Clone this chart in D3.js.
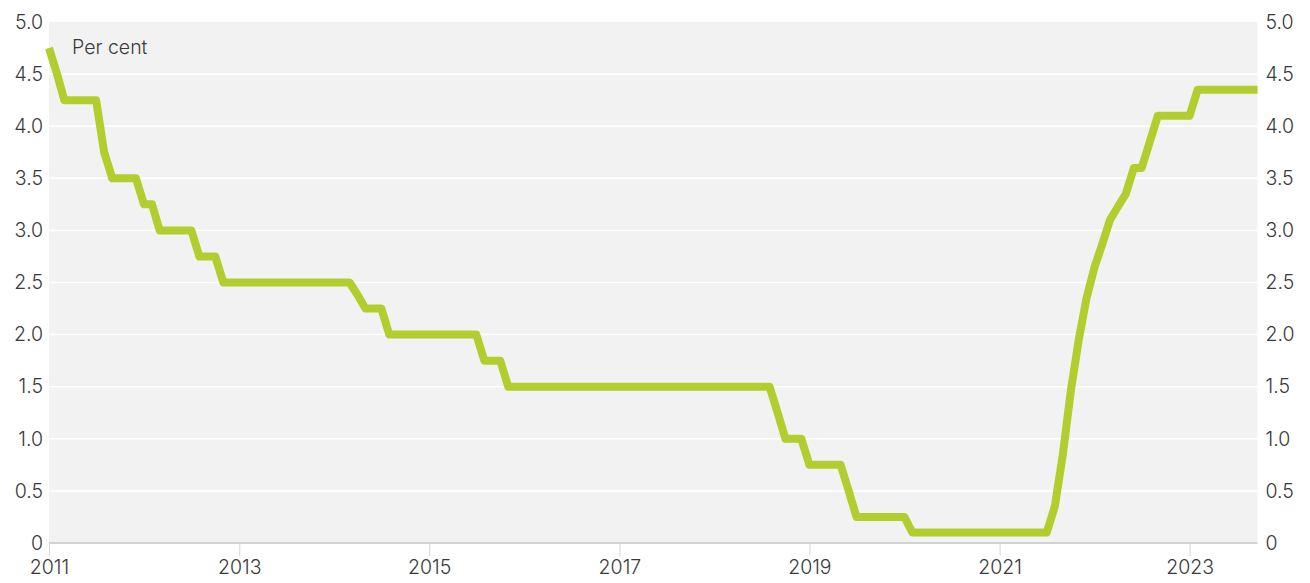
<!DOCTYPE html>
<html>
<head>
<meta charset="utf-8">
<script src="https://cdn.jsdelivr.net/npm/d3@7"></script>
<style>
  html, body { margin: 0; padding: 0; background: #ffffff; }
  svg { display: block; font-family: Inter, "Noto Sans", sans-serif; }
</style>
</head>
<body>
<svg id="chart" width="1310" height="583"></svg>
<script>
// ---- data ----
const dates = ["2011-01-01","2011-02-01","2011-03-01","2011-07-01","2011-08-01","2011-09-01","2011-12-01",
  "2012-01-01","2012-02-01","2012-03-01","2012-07-01","2012-08-01","2012-10-01","2012-11-01",
  "2014-03-01","2014-04-01","2014-05-01","2014-07-01","2014-08-01",
  "2015-07-01","2015-08-01","2015-10-01","2015-11-01",
  "2018-08-01","2018-09-01","2018-10-01","2018-12-01",
  "2019-01-01","2019-05-01","2019-06-01","2019-07-01",
  "2020-01-01","2020-02-01",
  "2021-07-01","2021-08-01","2021-09-01","2021-10-01","2021-11-01","2021-12-01",
  "2022-01-01","2022-02-01","2022-03-01","2022-04-01","2022-05-01","2022-06-01","2022-07-01","2022-08-01","2022-09-01",
  "2023-01-01","2023-02-01","2023-09-19"];
const rates = [4.75,4.5,4.25,4.25,3.75,3.5,3.5,
  3.25,3.25,3.0,3.0,2.75,2.75,2.5,
  2.5,2.38,2.25,2.25,2.0,
  2.0,1.75,1.75,1.5,
  1.5,1.25,1.0,1.0,
  0.75,0.75,0.5,0.25,
  0.25,0.1,
  0.1,0.35,0.85,1.45,1.95,2.35,
  2.65,2.88,3.1,3.23,3.35,3.6,3.6,3.85,4.1,
  4.1,4.35,4.35];
const xTickYears = [2011,2013,2015,2017,2019,2021,2023];
const yTicks = [0,0.5,1,1.5,2,2.5,3,3.5,4,4.5,5];
const yTickLabels = ["0","0.5","1.0","1.5","2.0","2.5","3.0","3.5","4.0","4.5","5.0"];
const unitLabel = "Per cent";
const xStart = "2011-01-01", xEnd = "2023-09-19";

// ---- layout ----
const svg = d3.select("#chart");
const pLeft = 49, pRight = 1257.5, pTop = 22, pBottom = 543;
const fontSize = 19.5, textColor = "#3a3a3a";
const parse = d3.timeParse("%Y-%m-%d");
const data = dates.map((d, i) => ({ date: parse(d), v: rates[i] }));

const x = d3.scaleTime().domain([parse(xStart), parse(xEnd)]).range([pLeft, pRight]);
const y = d3.scaleLinear().domain([0, 5]).range([pBottom, pTop]);

// background
svg.append("rect").attr("x", pLeft).attr("y", pTop)
  .attr("width", pRight - pLeft).attr("height", pBottom - pTop).attr("fill", "#f2f2f2");

// gridlines
svg.append("g").selectAll("line").data(yTicks.filter(t => t > 0 && t < 5)).join("line")
  .attr("x1", pLeft).attr("x2", pRight)
  .attr("y1", d => y(d)).attr("y2", d => y(d))
  .attr("stroke", "#ffffff").attr("stroke-width", 1.5);

// x axis
const xAxis = d3.axisBottom(x)
  .tickValues(xTickYears.map(yr => new Date(yr, 0, 1)))
  .tickFormat(d3.timeFormat("%Y"))
  .tickSize(13).tickPadding(4);
const gx = svg.append("g").attr("transform", `translate(0,${pBottom})`).call(xAxis);
gx.select(".domain").remove();
gx.selectAll(".tick line").attr("stroke", "#dcdcdc").attr("stroke-width", 1.2);
gx.selectAll(".tick text").attr("fill", textColor).attr("font-size", fontSize)
  .attr("font-family", "Inter, 'Noto Sans', sans-serif").attr("font-weight", 300);

// baseline
svg.append("line").attr("x1", pLeft).attr("x2", pRight)
  .attr("y1", pBottom).attr("y2", pBottom)
  .attr("stroke", "#d2d2d2").attr("stroke-width", 2);

// y axes left and right
const fmt = d => yTickLabels[yTicks.indexOf(d)];
const yl = d3.axisLeft(y).tickValues(yTicks).tickFormat(fmt).tickSize(0).tickPadding(6);
const yr = d3.axisRight(y).tickValues(yTicks).tickFormat(fmt).tickSize(0).tickPadding(8);
const gyl = svg.append("g").attr("transform", `translate(${pLeft},0)`).call(yl);
const gyr = svg.append("g").attr("transform", `translate(${pRight},0)`).call(yr);
[gyl, gyr].forEach(g => {
  g.select(".domain").remove();
  g.selectAll(".tick text").attr("fill", textColor).attr("font-size", fontSize)
    .attr("font-family", "Inter, 'Noto Sans', sans-serif").attr("font-weight", 300);
});

// unit label
svg.append("text").attr("x", 72).attr("y", 54)
  .attr("fill", textColor).attr("font-size", fontSize).attr("font-weight", 300)
  .text(unitLabel);

// line
const line = d3.line().x(d => x(d.date)).y(d => y(d.v));
svg.append("path").datum(data)
  .attr("d", line)
  .attr("fill", "none")
  .attr("stroke", "#b1cd2e")
  .attr("stroke-width", 8)
  .attr("stroke-linejoin", "round")
  .attr("stroke-linecap", "butt");
</script>
</body>
</html>
